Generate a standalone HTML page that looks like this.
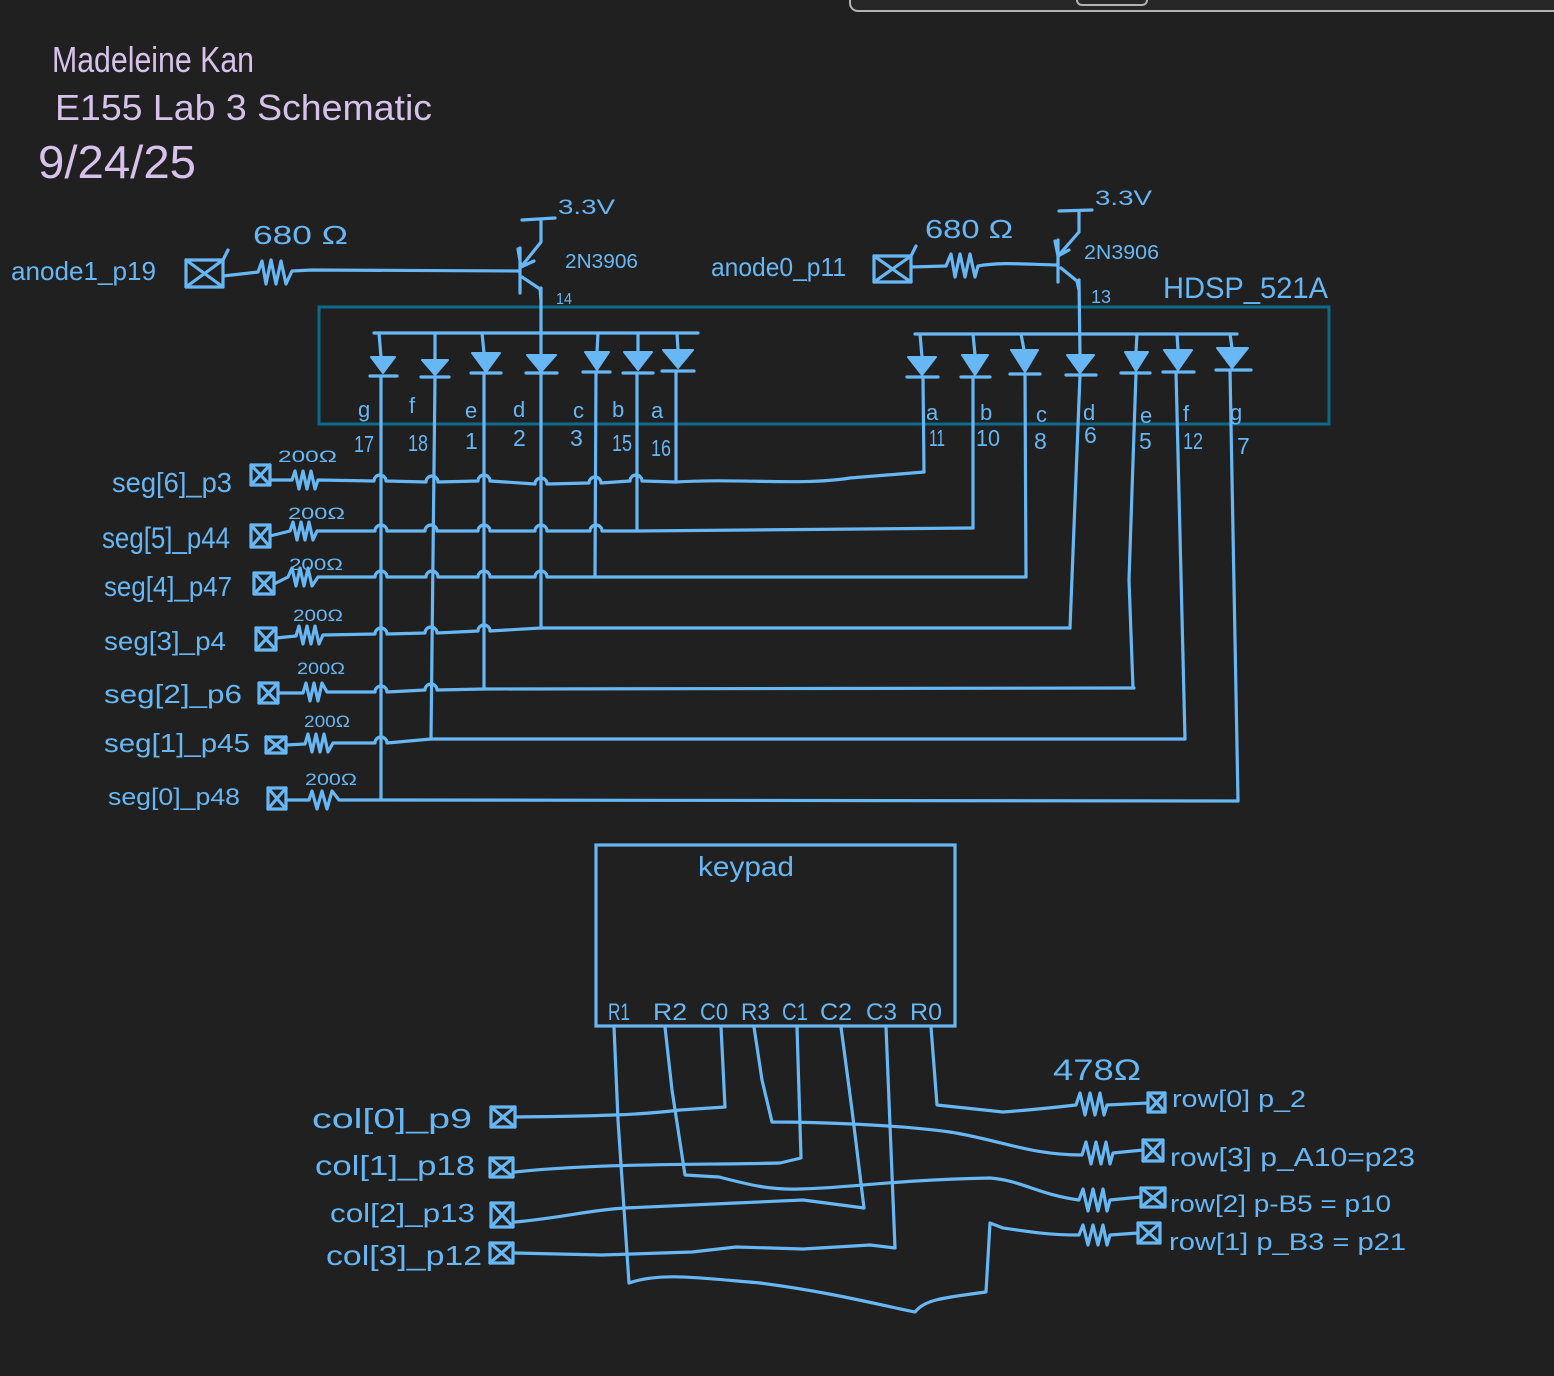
<!DOCTYPE html>
<html><head><meta charset="utf-8"><style>
html,body{margin:0;padding:0;background:#202020;}
svg{display:block;}
text{font-family:"Liberation Sans",sans-serif;fill:#67b7f5;}
.p{fill:#d6c2eb;}
.w{fill:none;stroke:#67b7f5;stroke-width:3.2;stroke-linecap:round;stroke-linejoin:round;}
.d{fill:#67b7f5;stroke:#67b7f5;stroke-width:2;stroke-linejoin:round;}
</style></head><body>
<svg width="1554" height="1376" viewBox="0 0 1554 1376" xmlns="http://www.w3.org/2000/svg">
<rect x="0" y="0" width="1554" height="1376" fill="#202020"/>
<!-- top right ui -->
<rect x="850" y="-20" width="730" height="31" rx="8" fill="#272727" stroke="#b3b3b3" stroke-width="2"/>
<rect x="1077" y="-12" width="70" height="17" rx="5" fill="none" stroke="#b3b3b3" stroke-width="2"/>

<!-- title -->
<text class="p" x="52" y="72" font-size="36" textLength="202" lengthAdjust="spacingAndGlyphs">Madeleine Kan</text>
<text class="p" x="55" y="120" font-size="36" textLength="377" lengthAdjust="spacingAndGlyphs">E155 Lab 3 Schematic</text>
<text class="p" x="38" y="178" font-size="46" textLength="158" lengthAdjust="spacingAndGlyphs">9/24/25</text>

<!-- display box -->
<rect x="319" y="307" width="1010" height="117" fill="none" stroke="#0d6a8a" stroke-width="3"/>
<text x="1163" y="298" font-size="30" textLength="165" lengthAdjust="spacingAndGlyphs">HDSP_521A</text>

<!-- left transistor -->
<text x="11" y="280" font-size="26" textLength="145" lengthAdjust="spacingAndGlyphs">anode1_p19</text>
<text x="253" y="244" font-size="26" textLength="95" lengthAdjust="spacingAndGlyphs">680 Ω</text>
<text x="558" y="214" font-size="21" textLength="57" lengthAdjust="spacingAndGlyphs">3.3V</text>
<text x="565" y="268" font-size="20" textLength="73" lengthAdjust="spacingAndGlyphs">2N3906</text>
<text x="556" y="304" font-size="16" textLength="16" lengthAdjust="spacingAndGlyphs">14</text>
<rect class="w" x="186" y="260" width="37" height="27"/>
<path class="w" d="M186,260 L223,287 M223,260 L186,287 M223,260 L228,250"/>
<path class="w" d="M223,276 L258,272 L262,261 L266,284 L271,260 L276,284 L281,261 L286,284 L292,271 L312,270 L519,271"/>
<path class="w" d="M522,220 L555,218 M541,220 L541,242 L521,267 M518,249 L521,267 L534,261 M520,248 L520,293 M522,277 L540,289 L541,300"/>

<!-- right transistor -->
<text x="711" y="276" font-size="26" textLength="135" lengthAdjust="spacingAndGlyphs">anode0_p11</text>
<text x="925" y="238" font-size="26" textLength="88" lengthAdjust="spacingAndGlyphs">680 Ω</text>
<text x="1095" y="205" font-size="21" textLength="57" lengthAdjust="spacingAndGlyphs">3.3V</text>
<text x="1084" y="259" font-size="20" textLength="75" lengthAdjust="spacingAndGlyphs">2N3906</text>
<text x="1091" y="303" font-size="18" textLength="20" lengthAdjust="spacingAndGlyphs">13</text>
<rect class="w" x="874" y="256" width="37" height="26"/>
<path class="w" d="M874,256 L911,282 M911,256 L874,282 M911,256 L916,246"/>
<path class="w" d="M911,267 L946,266 L951,254 L955,277 L960,254 L965,277 L970,254 L975,277 L978,266 C1000,262 1020,264 1057,265"/>
<path class="w" d="M1059,211 L1092,210 M1079,211 L1079,232 L1058,256 M1055,241 L1058,256 L1069,250 M1058,240 L1058,282 M1061,268 L1077,281 L1079,290"/>

<!-- buses -->
<path class="w" d="M374,333 L698,333 M915,334 L1237,334"/>
<path class="w" d="M379,333 L381,357 M435,333 L435,360 M482,333 L484,353 M598,333 L597,352 M638,333 L638,352 M677,333 L678,350"/>
<path class="w" d="M920,334 L922,357 M973,334 L975,355 M1021,334 L1024,350 M1137,334 L1136,352 M1177,334 L1178,350 M1230,334 L1232,348 M1079,280 L1080,355"/>

<!-- diodes left -->
<path class="d" d="M371,357 L395,357 L383,373 Z M422,360 L448,360 L435,375 Z M472,353 L500,353 L486,372 Z M527,355 L556,355 L541,372 Z M585,352 L609,352 L597,370 Z M624,352 L652,352 L638,370 Z M663,350 L693,350 L678,368 Z"/>
<path class="w" d="M370,376 L397,376 M421,377 L449,377 M471,373 L501,373 M526,373 L557,373 M583,372 L610,372 M623,373 L653,373 M662,371 L694,371"/>
<!-- diodes right -->
<path class="d" d="M908,357 L936,357 L922,375 Z M962,355 L988,355 L975,375 Z M1011,350 L1038,350 L1025,372 Z M1067,355 L1094,355 L1080,373 Z M1125,352 L1148,352 L1136,371 Z M1164,350 L1192,350 L1178,370 Z M1217,348 L1248,348 L1232,368 Z"/>
<path class="w" d="M907,377 L938,377 M961,377 L990,377 M1010,374 L1040,374 M1066,375 L1096,375 M1121,373 L1150,373 M1163,372 L1194,372 M1216,370 L1251,370"/>

<!-- segment letters -->
<g font-size="22">
<text x="358" y="417">g</text><text x="409" y="413">f</text><text x="465" y="418">e</text><text x="513" y="417">d</text><text x="573" y="418">c</text><text x="612" y="417">b</text><text x="651" y="418">a</text>
<text x="926" y="420">a</text><text x="980" y="420">b</text><text x="1036" y="422">c</text><text x="1083" y="420">d</text><text x="1140" y="423">e</text><text x="1183" y="421">f</text><text x="1230" y="420">g</text>
</g>
<g font-size="23">
<text x="354" y="452" textLength="20" lengthAdjust="spacingAndGlyphs">17</text><text x="408" y="451" textLength="20" lengthAdjust="spacingAndGlyphs">18</text><text x="465" y="449">1</text><text x="513" y="446">2</text><text x="570" y="446">3</text><text x="612" y="451" textLength="20" lengthAdjust="spacingAndGlyphs">15</text><text x="651" y="456" textLength="20" lengthAdjust="spacingAndGlyphs">16</text>
<text x="929" y="446" textLength="16" lengthAdjust="spacingAndGlyphs">11</text><text x="976" y="446" textLength="24" lengthAdjust="spacingAndGlyphs">10</text><text x="1034" y="449">8</text><text x="1084" y="443">6</text><text x="1139" y="449">5</text><text x="1183" y="449" textLength="20" lengthAdjust="spacingAndGlyphs">12</text><text x="1237" y="454">7</text>
</g>

<!-- verticals below diodes -->
<path class="w" d="M381,376 L381,800 M435,377 L431,739 M484,373 L484,689 M541,288 L541,628 M596,372 L595,577 M637,373 L637,531 M676,371 L676,482"/>
<path class="w" d="M923,377 L924,472 M973,377 L973,528 M1025,374 L1026,577 M1080,375 L1070,628 M1136,373 L1129,580 L1133,688 M1176,372 L1185,739 M1230,370 L1238,801"/>

<!-- seg labels -->
<text x="112" y="492" font-size="28" textLength="120" lengthAdjust="spacingAndGlyphs">seg[6]_p3</text>
<text x="102" y="548" font-size="30" textLength="128" lengthAdjust="spacingAndGlyphs">seg[5]_p44</text>
<text x="104" y="596" font-size="28" textLength="128" lengthAdjust="spacingAndGlyphs">seg[4]_p47</text>
<text x="104" y="650" font-size="26" textLength="122" lengthAdjust="spacingAndGlyphs">seg[3]_p4</text>
<text x="104" y="703" font-size="26" textLength="138" lengthAdjust="spacingAndGlyphs">seg[2]_p6</text>
<text x="104" y="752" font-size="26" textLength="146" lengthAdjust="spacingAndGlyphs">seg[1]_p45</text>
<text x="108" y="805" font-size="24" textLength="132" lengthAdjust="spacingAndGlyphs">seg[0]_p48</text>
<g font-size="17">
<text x="278" y="462" textLength="59" lengthAdjust="spacingAndGlyphs">200Ω</text>
<text x="288" y="519" textLength="57" lengthAdjust="spacingAndGlyphs">200Ω</text>
<text x="289" y="570" textLength="54" lengthAdjust="spacingAndGlyphs">200Ω</text>
<text x="293" y="621" textLength="50" lengthAdjust="spacingAndGlyphs">200Ω</text>
<text x="297" y="674" textLength="48" lengthAdjust="spacingAndGlyphs">200Ω</text>
<text x="304" y="727" textLength="46" lengthAdjust="spacingAndGlyphs">200Ω</text>
<text x="305" y="785" textLength="52" lengthAdjust="spacingAndGlyphs">200Ω</text>
</g>
<!-- seg boxes -->
<rect class="w" x="251" y="465" width="19" height="20"/><path class="w" d="M251,465 L270,485 M270,465 L251,485"/>
<rect class="w" x="251" y="525" width="19" height="22"/><path class="w" d="M251,525 L270,547 M270,525 L251,547"/>
<rect class="w" x="254" y="573" width="20" height="21"/><path class="w" d="M254,573 L274,594 M274,573 L254,594"/>
<rect class="w" x="256" y="628" width="20" height="22"/><path class="w" d="M256,628 L276,650 M276,628 L256,650"/>
<rect class="w" x="259" y="683" width="19" height="20"/><path class="w" d="M259,683 L278,703 M278,683 L259,703"/>
<rect class="w" x="266" y="737" width="20" height="16"/><path class="w" d="M266,737 L286,753 M286,737 L266,753"/>
<rect class="w" x="268" y="788" width="18" height="21"/><path class="w" d="M268,788 L286,809 M286,788 L268,809"/>

<!-- seg wires -->
<path class="w" d="M270,480 L292,480 L295,471 L299,489 L303,471 L307,489 L311,471 L315,489 L318,480 L374,481 A6,6 0 0 1 386,481 L426,482 A6,6 0 0 1 438,482 L478,481 A6,6 0 0 1 490,481 L535,484 A6,6 0 0 1 547,484 L589,483 A6,6 0 0 1 601,483 L630,481 A6,6 0 0 1 642,481 L676,482 C740,478 800,486 850,478 L924,472"/>
<path class="w" d="M270,536 L290,531 L293,522 L297,540 L301,522 L305,540 L309,522 L313,540 L317,531 L375,531 A6,6 0 0 1 387,531 L425,531 A6,6 0 0 1 437,531 L478,531 A6,6 0 0 1 490,531 L535,531 A6,6 0 0 1 547,531 L590,531 A6,6 0 0 1 602,531 L637,531 L973,528"/>
<path class="w" d="M274,584 L288,577 L292,568 L296,586 L300,568 L304,586 L308,568 L312,586 L318,577 L375,577 A6,6 0 0 1 387,577 L426,577 A6,6 0 0 1 438,577 L478,577 A6,6 0 0 1 490,577 L535,577 A6,6 0 0 1 547,577 L596,577 L1026,577"/>
<path class="w" d="M276,638 L296,636 L299,626 L303,644 L307,626 L311,644 L315,626 L319,644 L323,635 L375,634 A6,6 0 0 1 387,634 L425,633 A6,6 0 0 1 437,633 L478,631 A6,6 0 0 1 490,631 L541,628 L1070,628"/>
<path class="w" d="M278,693 L303,693 L306,683 L310,701 L314,683 L318,701 L322,683 L327,692 L375,692 A6,6 0 0 1 387,692 L425,690 A6,6 0 0 1 437,690 L484,689 L1134,688"/>
<path class="w" d="M286,745 L305,744 L308,734 L312,752 L316,734 L320,752 L324,734 L328,752 L333,743 L375,743 A6,6 0 0 1 387,743 L431,739 L1185,739"/>
<path class="w" d="M286,800 L309,800 L312,791 L317,809 L322,791 L327,809 L332,791 L339,800 L381,800 L1238,801"/>

<!-- keypad -->
<rect x="596" y="845" width="359" height="181" fill="none" stroke="#67b7f5" stroke-width="3.2"/>
<text x="698" y="876" font-size="28" textLength="96" lengthAdjust="spacingAndGlyphs">keypad</text>
<g font-size="24">
<text x="608" y="1020" textLength="22" lengthAdjust="spacingAndGlyphs">R1</text>
<text x="653" y="1020" textLength="34" lengthAdjust="spacingAndGlyphs">R2</text>
<text x="700" y="1020" textLength="28" lengthAdjust="spacingAndGlyphs">C0</text>
<text x="741" y="1020" textLength="29" lengthAdjust="spacingAndGlyphs">R3</text>
<text x="782" y="1020" textLength="26" lengthAdjust="spacingAndGlyphs">C1</text>
<text x="820" y="1020" textLength="32" lengthAdjust="spacingAndGlyphs">C2</text>
<text x="866" y="1020" textLength="31" lengthAdjust="spacingAndGlyphs">C3</text>
<text x="910" y="1020" textLength="32" lengthAdjust="spacingAndGlyphs">R0</text>
</g>

<!-- col labels and boxes -->
<text x="312" y="1128" font-size="28" textLength="160" lengthAdjust="spacingAndGlyphs">col[0]_p9</text>
<text x="315" y="1175" font-size="28" textLength="160" lengthAdjust="spacingAndGlyphs">col[1]_p18</text>
<text x="330" y="1222" font-size="26" textLength="145" lengthAdjust="spacingAndGlyphs">col[2]_p13</text>
<text x="326" y="1265" font-size="28" textLength="156" lengthAdjust="spacingAndGlyphs">col[3]_p12</text>
<rect class="w" x="491" y="1107" width="24" height="20"/><path class="w" d="M491,1107 L515,1127 M515,1107 L491,1127"/>
<rect class="w" x="490" y="1158" width="23" height="19"/><path class="w" d="M490,1158 L513,1177 M513,1158 L490,1177"/>
<rect class="w" x="491" y="1203" width="22" height="24"/><path class="w" d="M491,1203 L513,1227 M513,1203 L491,1227"/>
<rect class="w" x="490" y="1243" width="23" height="20"/><path class="w" d="M490,1243 L513,1263 M513,1243 L490,1263"/>

<!-- keypad wires -->
<path class="w" d="M614,1027 L618,1120 L629,1283 C660,1272 700,1278 760,1283 C830,1292 880,1305 915,1312 C925,1300 940,1298 986,1292 L990,1223 L1003,1228 C1030,1232 1050,1235 1079,1235 L1083,1225 L1088,1245 L1093,1225 L1098,1245 L1103,1225 L1107,1245 L1110,1235 L1138,1233"/>
<path class="w" d="M665,1027 L672,1090 L685,1175 L719,1177 C750,1185 770,1190 800,1189 C850,1188 890,1180 990,1178 C1020,1180 1040,1195 1079,1200 L1083,1189 L1088,1211 L1093,1189 L1098,1211 L1103,1189 L1107,1211 L1110,1200 L1141,1197"/>
<path class="w" d="M721,1027 L725,1107 L680,1110 C640,1115 600,1116 515,1117"/>
<path class="w" d="M754,1027 L762,1080 L772,1122 C820,1122 900,1125 950,1132 C1000,1140 1030,1155 1082,1155 L1086,1142 L1091,1164 L1096,1142 L1101,1164 L1106,1142 L1110,1164 L1113,1153 L1143,1150"/>
<path class="w" d="M797,1027 L801,1158 L780,1163 C700,1165 600,1163 515,1172"/>
<path class="w" d="M841,1027 L852,1110 L864,1208 L803,1200 L736,1203 L625,1208 C590,1210 560,1218 515,1222"/>
<path class="w" d="M886,1027 L895,1248 L870,1245 L803,1249 L736,1247 L692,1252 L602,1255 L515,1253"/>
<path class="w" d="M931,1027 L937,1105 L1003,1112 C1030,1110 1050,1108 1076,1105 L1080,1093 L1085,1115 L1090,1093 L1095,1115 L1100,1093 L1104,1115 L1107,1105 L1148,1103"/>

<!-- row boxes -->
<rect class="w" x="1148" y="1093" width="17" height="19"/><path class="w" d="M1148,1093 L1165,1112 M1165,1093 L1148,1112"/>
<rect class="w" x="1143" y="1140" width="20" height="21"/><path class="w" d="M1143,1140 L1163,1161 M1163,1140 L1143,1161"/>
<rect class="w" x="1141" y="1188" width="24" height="19"/><path class="w" d="M1141,1188 L1165,1207 M1165,1188 L1141,1207"/>
<rect class="w" x="1138" y="1223" width="22" height="20"/><path class="w" d="M1138,1223 L1160,1243 M1160,1223 L1138,1243"/>

<!-- row labels -->
<text x="1053" y="1080" font-size="30" textLength="88" lengthAdjust="spacingAndGlyphs">478Ω</text>
<text x="1172" y="1107" font-size="24" textLength="134" lengthAdjust="spacingAndGlyphs">row[0]  p_2</text>
<text x="1170" y="1166" font-size="26" textLength="245" lengthAdjust="spacingAndGlyphs">row[3]  p_A10=p23</text>
<text x="1170" y="1212" font-size="24" textLength="221" lengthAdjust="spacingAndGlyphs">row[2]  p-B5 = p10</text>
<text x="1169" y="1250" font-size="24" textLength="237" lengthAdjust="spacingAndGlyphs">row[1]  p_B3 = p21</text>
</svg>
</body></html>
